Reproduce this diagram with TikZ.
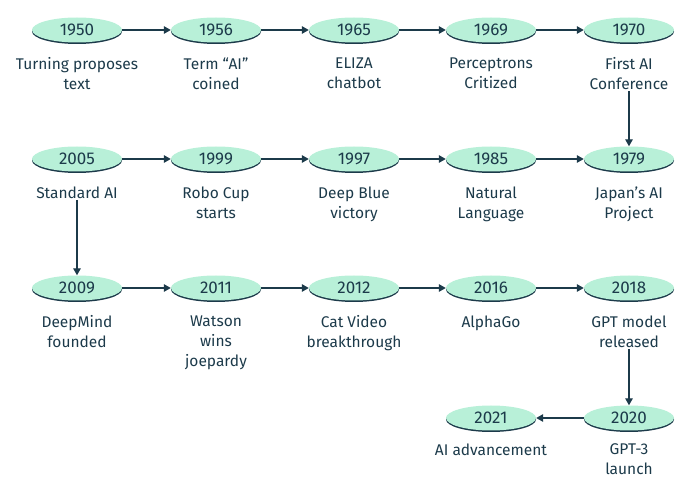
\documentclass[tikz,border=0pt]{standalone}
\usepackage{fontspec}
\setmainfont{Fira Sans}
\usetikzlibrary{shapes.geometric,arrows.meta,shadows,positioning}
\definecolor{ink}{HTML}{1C3A4A}
\definecolor{mint}{HTML}{B8F0D8}
\tikzset{
  year/.style={ellipse,fill=mint,minimum width=90pt,minimum height=25pt,inner sep=0pt,
    text=ink,font=\fontsize{17}{20}\selectfont,
    drop shadow={shadow xshift=0pt,shadow yshift=-1.5pt,fill=ink,opacity=1}},
  event/.style={text=ink,align=center,font=\fontsize{15.5}{20}\selectfont,inner sep=1pt},
  link/.style={draw=ink,line width=1.3pt,-{Triangle[length=7pt,width=7.5pt]}}
}
\begin{document}
\begin{tikzpicture}[x=1pt,y=-1pt]
  \useasboundingbox (0,0) rectangle (681,481);
  % first row
  \node[year] (y1950) at (77,30) {1950};
  \node[year] (y1956) at (216,30) {1956};
  \node[year] (y1965) at (354,30) {1965};
  \node[year] (y1969) at (491,30) {1969};
  \node[year] (y1970) at (629,30) {1970};
  \node[event,below=14pt of y1950] (l1950) {Turning proposes\\text};
  \node[event,below=14pt of y1956] (l1956) {Term “AI”\\coined};
  \node[event,below=14pt of y1965] (l1965) {ELIZA\\chatbot};
  \node[event,below=14pt of y1969] (l1969) {Perceptrons\\Critized};
  \node[event,below=14pt of y1970] (l1970) {First AI\\Conference};
  % second row
  \node[year] (y2005) at (77,159) {2005};
  \node[year] (y1999) at (216,159) {1999};
  \node[year] (y1997) at (354,159) {1997};
  \node[year] (y1985) at (491,159) {1985};
  \node[year] (y1979) at (629,159) {1979};
  \node[event,below=14pt of y2005] (l2005) {Standard AI};
  \node[event,below=14pt of y1999] (l1999) {Robo Cup\\starts};
  \node[event,below=14pt of y1997] (l1997) {Deep Blue\\victory};
  \node[event,below=14pt of y1985] (l1985) {Natural\\Language};
  \node[event,below=14pt of y1979] (l1979) {Japan’s AI\\Project};
  % third row
  \node[year] (y2009) at (77,288) {2009};
  \node[year] (y2011) at (216,288) {2011};
  \node[year] (y2012) at (354,288) {2012};
  \node[year] (y2016) at (491,288) {2016};
  \node[year] (y2018) at (629,288) {2018};
  \node[event,below=14pt of y2009] (l2009) {DeepMind\\founded};
  \node[event,below=14pt of y2011] (l2011) {Watson\\wins\\joepardy};
  \node[event,below=14pt of y2012] (l2012) {Cat Video\\breakthrough};
  \node[event,below=14pt of y2016] (l2016) {AlphaGo};
  \node[event,below=14pt of y2018] (l2018) {GPT model\\released};
  % last row
  \node[year] (y2021) at (491,418) {2021};
  \node[year] (y2020) at (629,418) {2020};
  \node[event,below=12pt of y2021] (l2021) {AI advancement};
  \node[event,below=12pt of y2020] (l2020) {GPT-3\\launch};
  % arrows
  \draw[link] (y1950) -- (y1956);
  \draw[link] (y1956) -- (y1965);
  \draw[link] (y1965) -- (y1969);
  \draw[link] (y1969) -- (y1970);
  \draw[link] (l1970) -- (y1979);
  \draw[link] (y2005) -- (y1999);
  \draw[link] (y1999) -- (y1997);
  \draw[link] (y1997) -- (y1985);
  \draw[link] (y1985) -- (y1979);
  \draw[link] (l2005) -- (y2009);
  \draw[link] (y2009) -- (y2011);
  \draw[link] (y2011) -- (y2012);
  \draw[link] (y2012) -- (y2016);
  \draw[link] (y2016) -- (y2018);
  \draw[link] (l2018) -- (y2020);
  \draw[link] (y2020) -- (y2021);
\end{tikzpicture}
\end{document}
